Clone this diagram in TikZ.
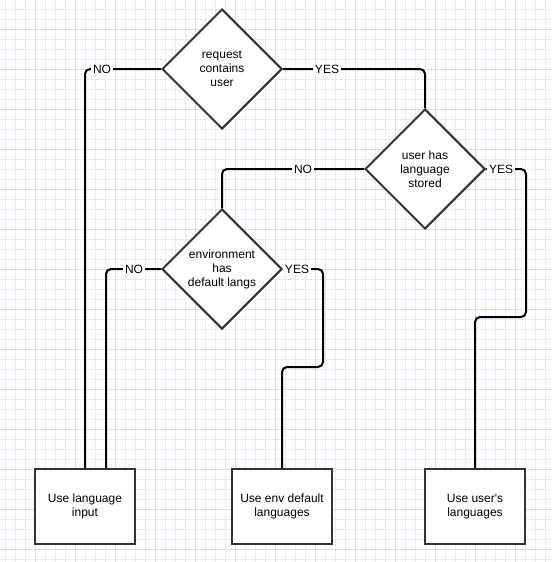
\documentclass[tikz,border=0pt]{standalone}
\usepackage{fontspec}
\setmainfont{Liberation Sans}
\usetikzlibrary{shapes.geometric}
\definecolor{gridminor}{HTML}{E8E8FA}
\definecolor{gridmajor}{HTML}{DADAF4}
\definecolor{shapeline}{HTML}{333333}

\begin{document}
\begin{tikzpicture}[x=1pt, y=-1pt,
    decision/.style={diamond, draw=shapeline, line width=2pt, fill=white, aspect=1,
      minimum width=120pt, minimum height=120pt, inner sep=0pt, align=center,
      font=\fontsize{12}{14}\selectfont},
    action/.style={rectangle, draw=shapeline, line width=2pt, fill=white,
      minimum width=100pt, minimum height=75pt, align=center,
      font=\fontsize{12}{14}\selectfont},
    conn/.style={draw=black, line width=2pt, rounded corners=5pt},
    lbl/.style={fill=white, inner sep=2pt, font=\fontsize{12}{14}\selectfont}]
  \useasboundingbox (0, 0) rectangle (552, 562);
  \fill[white] (0, 0) rectangle (552, 562);
  % grid
  \foreach \x in {5.5, 15.5, ..., 552} \draw[gridminor, line width=.8pt] (\x, 0) -- (\x, 562);
  \foreach \y in {9.5, 19.5, ..., 562} \draw[gridminor, line width=.8pt] (0, \y) -- (552, \y);
  \foreach \x in {35.5, 75.5, ..., 552} \draw[gridmajor, line width=.9pt] (\x, 0) -- (\x, 562);
  \foreach \y in {29.5, 69.5, ..., 562} \draw[gridmajor, line width=.9pt] (0, \y) -- (552, \y);

  \node[decision] (req) at (222, 69) {request\\contains\\user};
  \node[decision] (usr) at (425, 169) {user has\\language\\stored};
  \node[decision] (env) at (222, 269) {environment\\has\\default langs};
  \node[action] (input) at (85, 506.5) {Use language\\input};
  \node[action] (dflt) at (282, 506.5) {Use env default\\languages};
  \node[action] (own) at (475, 506.5) {Use user\textquotesingle s\\languages};

  \draw[conn] (req.west) -| (input.north);
  \draw[conn] (req.east) -| (usr.north);
  \draw[conn] (usr.west) -| (env.north);
  \draw[conn] (usr.east) -| ++(40, 148) -| (own.north);
  \draw[conn] (env.west) -| ([xshift=21pt]input.north);
  \draw[conn] (env.east) -| ++(40, 98) -| (dflt.north);

  \node[lbl] (no1) at (102, 69) {NO};
  \node[lbl] (yes1) at (327, 69) {YES};
  \node[lbl] (no2) at (303, 169) {NO};
  \node[lbl] (yes2) at (501, 169) {YES};
  \node[lbl] (no3) at (134, 269) {NO};
  \node[lbl] (yes3) at (297, 269) {YES};
\end{tikzpicture}
\end{document}
